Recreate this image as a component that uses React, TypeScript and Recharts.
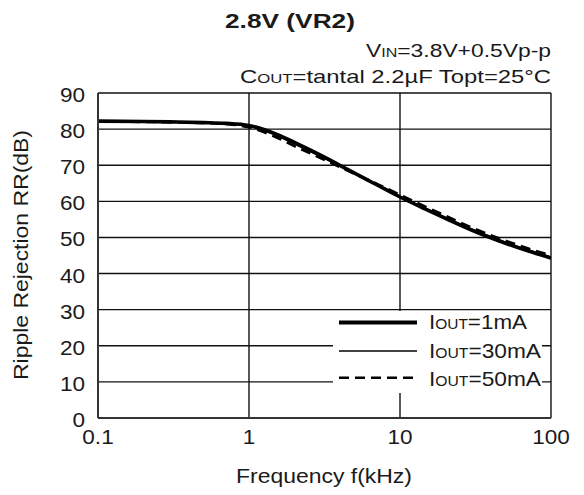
import React from 'react'
import {
  CartesianGrid,
  Legend,
  Line,
  LineChart,
  XAxis,
  YAxis,
} from 'recharts'

// frequency in kHz
const freqs = [0.1, 0.2, 0.3, 0.5, 0.7, 1, 1.5, 2, 3, 5, 7, 10, 15, 20, 30, 50, 70, 100]

// ripple rejection in dB
const rr1mA = [82.2, 82.1, 82.0, 81.8, 81.6, 81.0, 78.7, 76.3, 72.7, 67.8, 64.6, 61.2, 57.7, 55.3, 52.0, 48.4, 46.3, 44.3]
const rr30mA = [82.2, 82.1, 82.0, 81.8, 81.5, 80.8, 78.3, 75.8, 72.3, 67.7, 64.7, 61.4, 58.0, 55.6, 52.3, 48.7, 46.6, 44.6]
const rr50mA = [82.1, 82.0, 81.9, 81.7, 81.4, 80.5, 77.8, 75.3, 71.9, 67.6, 64.9, 61.8, 58.4, 56.0, 52.7, 49.1, 47.0, 45.0]

const xTicks = [0.1, 1, 10, 100]
const yTicks = [0, 10, 20, 30, 40, 50, 60, 70, 80, 90]

const seriesNames = ['1mA', '30mA', '50mA']

const FONT = '"Liberation Sans", Arial, Helvetica, sans-serif'
const INK = '#1a1a1a'

const data = freqs.map((f, i) => ({
  f,
  a: rr1mA[i],
  b: rr30mA[i],
  c: rr50mA[i],
}))

const series = [
  { key: 'a', name: seriesNames[0], width: 3.6, dash: undefined },
  { key: 'b', name: seriesNames[1], width: 1.3, dash: undefined },
  { key: 'c', name: seriesNames[2], width: 2.6, dash: '10 6' },
]

const XTick = (props: any) => {
  const { x, y, payload } = props
  return (
    <text
      transform={`translate(${x},${y + 26}) scale(1.1,1)`}
      textAnchor='middle'
      fontSize={20.5}
      fontFamily={FONT}
      fill={INK}
    >
      {payload.value}
    </text>
  )
}

const YTick = (props: any) => {
  const { x, y, payload } = props
  return (
    <text
      transform={`translate(${x},${y + 9}) scale(1.1,1)`}
      textAnchor='end'
      fontSize={20.5}
      fontFamily={FONT}
      fill={INK}
    >
      {payload.value}
    </text>
  )
}

const YTitle = () => (
  <text
    transform='translate(28,255) rotate(-90)'
    textAnchor='middle'
    fontSize={20}
    fontFamily={FONT}
    fill={INK}
    textLength={250}
    lengthAdjust='spacingAndGlyphs'
  >
    Ripple Rejection RR(dB)
  </text>
)

const XTitle = () => (
  <text
    x={236}
    y={483}
    fontSize={20.5}
    fontFamily={FONT}
    fill={INK}
    textLength={176}
    lengthAdjust='spacingAndGlyphs'
  >
    Frequency f(kHz)
  </text>
)

const legendRows = [
  { lineY: 11.5, textY: 18, len: 98 },
  { lineY: 40, textY: 47.3, len: 112 },
  { lineY: 66.7, textY: 75, len: 112 },
]

const renderLegend = () => (
  <svg width={209} height={82} style={{ display: 'block' }}>
    {series.map((s, i) => (
      <g key={s.key}>
        <line
          x1={6}
          x2={84}
          y1={legendRows[i].lineY}
          y2={legendRows[i].lineY}
          stroke='#000'
          strokeWidth={s.width + (i === 0 ? 0.6 : 0)}
          strokeDasharray={s.dash}
        />
        <text
          x={96}
          y={legendRows[i].textY}
          fontSize={21}
          fontFamily={FONT}
          fill={INK}
          textLength={legendRows[i].len}
          lengthAdjust='spacingAndGlyphs'
        >
          I<tspan fontSize={14.5}>OUT</tspan>={s.name}
        </text>
      </g>
    ))}
  </svg>
)

export default function App() {
  return (
    <div
      style={{
        position: 'absolute',
        left: 0,
        top: 0,
        width: 584,
        height: 495,
        background: '#fff',
      }}
    >
      <LineChart
        width={584}
        height={495}
        data={data}
        margin={{ top: 93, right: 33, left: 0, bottom: 0 }}
      >
        <CartesianGrid stroke='#111' strokeWidth={1.4} />
        <XAxis
          dataKey='f'
          type='number'
          scale='log'
          domain={[0.1, 100]}
          ticks={xTicks}
          allowDataOverflow
          height={77}
          tickSize={0}
          tickMargin={0}
          tickLine={false}
          tick={<XTick />}
          axisLine={{ stroke: '#333', strokeWidth: 2 }}
          label={<XTitle />}
        />
        <YAxis
          type='number'
          domain={[0, 90]}
          ticks={yTicks}
          width={98}
          tickSize={0}
          tickMargin={13}
          tickLine={false}
          tick={<YTick />}
          axisLine={{ stroke: '#333', strokeWidth: 2 }}
          label={<YTitle />}
        />
        {series.map((s) => (
          <Line
            key={s.key}
            dataKey={s.key}
            name={s.name}
            type='monotone'
            stroke='#000'
            strokeWidth={s.width}
            strokeDasharray={s.dash}
            dot={false}
            isAnimationActive={false}
          />
        ))}
        <Legend
          layout='vertical'
          align='center'
          verticalAlign='middle'
          content={renderLegend}
          wrapperStyle={{
            position: 'absolute',
            left: 333,
            top: 311,
            width: 209,
            height: 82,
            background: '#fff',
          }}
        />
      </LineChart>
      <svg
        width={584}
        height={100}
        style={{ position: 'absolute', left: 0, top: 0, pointerEvents: 'none' }}
      >
        <text
          x={290}
          y={28.3}
          textAnchor='middle'
          fontSize={20}
          fontWeight='bold'
          fontFamily={FONT}
          fill={INK}
          textLength={130}
          lengthAdjust='spacingAndGlyphs'
        >
          2.8V (VR2)
        </text>
        <text
          x={366}
          y={56.7}
          fontSize={18.5}
          fontFamily={FONT}
          fill={INK}
          textLength={185}
          lengthAdjust='spacingAndGlyphs'
        >
          V<tspan fontSize={13}>IN</tspan>=3.8V+0.5Vp-p
        </text>
        <text
          x={240}
          y={82.7}
          fontSize={18.5}
          fontFamily={FONT}
          fill={INK}
          textLength={311}
          lengthAdjust='spacingAndGlyphs'
        >
          C<tspan fontSize={13}>OUT</tspan>=tantal 2.2µF Topt=25°C
        </text>
      </svg>
    </div>
  )
}
